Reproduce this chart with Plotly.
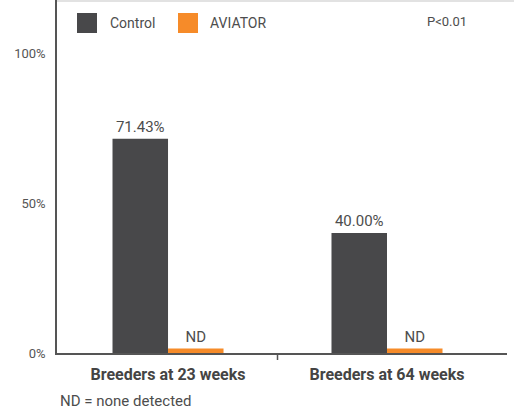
import plotly.graph_objects as go

categories = ["Breeders at 23 weeks", "Breeders at 64 weeks"]
control_values = [71.43, 40.00]
aviator_values = [1.5, 1.5]  # not detected; drawn as a thin sliver
control_text = ["71.43%", "40.00%"]
aviator_text = ["ND", "ND"]
y_tick_vals = [0, 50, 100]
y_tick_text = ["0%", "50%", "100%"]

W, H = 514, 409
L, R, T, B = 57, 7, 0, 56
PW, PH = W - L - R, H - T - B

def px(x):
    return (x - L) / PW

def py(y):
    return (H - B - y) / PH

DARK = "#48484a"
ORANGE = "#f68b29"
TXT = "#4d4d4d"
FONT = "Roboto"

fig = go.Figure()
fig.add_trace(go.Bar(x=categories, y=control_values, name="Control",
                     marker=dict(color=DARK, line=dict(width=0)),
                     text=control_text, textposition="outside",
                     textfont=dict(size=15, color=TXT, family=FONT),
                     cliponaxis=False, showlegend=False))
fig.add_trace(go.Bar(x=categories, y=aviator_values, name="AVIATOR",
                     marker=dict(color=ORANGE, line=dict(width=0)),
                     text=aviator_text, textposition="outside",
                     textfont=dict(size=15, color=TXT, family=FONT),
                     cliponaxis=False, showlegend=False))

shapes = [
    dict(type="rect", xref="paper", yref="paper", x0=px(77), x1=px(97), y0=py(33), y1=py(13),
         fillcolor=DARK, line=dict(width=0)),
    dict(type="rect", xref="paper", yref="paper", x0=px(178), x1=px(198), y0=py(33), y1=py(13),
         fillcolor=ORANGE, line=dict(width=0)),
    dict(type="line", xref="paper", yref="paper", x0=0, x1=px(514), y0=py(1), y1=py(1),
         line=dict(color="#e2e2e2", width=2)),
    dict(type="line", xref="x", yref="paper", x0=0.5, x1=0.5, y0=0, y1=py(360),
         line=dict(color="#555555", width=1.5)),
]

annotations = [
    dict(text="Control", xref="paper", yref="paper", x=px(108), y=py(23), xanchor="left",
         yanchor="middle", showarrow=False, font=dict(size=14, color=TXT, family=FONT)),
    dict(text="AVIATOR", xref="paper", yref="paper", x=px(208), y=py(23), xanchor="left",
         yanchor="middle", showarrow=False, font=dict(size=14, color=TXT, family=FONT)),
    dict(text="P&lt;0.01", xref="paper", yref="paper", x=px(447), y=py(22), xanchor="center",
         yanchor="middle", showarrow=False, font=dict(size=13, color=TXT, family=FONT)),
    dict(text="ND = none detected", xref="paper", yref="paper", x=px(58), y=py(401),
         xanchor="left", yanchor="middle", showarrow=False,
         font=dict(size=15, color=TXT, family=FONT)),
]

fig.update_layout(
    width=W, height=H,
    margin=dict(l=L, r=R, t=T, b=B, pad=0),
    paper_bgcolor="white", plot_bgcolor="white",
    barmode="group", bargap=0.493, bargroupgap=0,
    showlegend=False,
    shapes=shapes, annotations=annotations,
    font=dict(family=FONT, color=TXT),
    xaxis=dict(range=[-0.507, 1.548], showgrid=False, zeroline=False,
               showline=True, linecolor="#555555", linewidth=1.5,
               ticks="", ticklabelstandoff=6,
               tickfont=dict(size=16, color="#444444", family=FONT, weight="bold"),
               fixedrange=True),
    yaxis=dict(range=[0, PH / 3.0], showgrid=False, zeroline=False,
               showline=True, linecolor="#555555", linewidth=1.5,
               tickvals=y_tick_vals, ticktext=y_tick_text, ticks="",
               ticklabelstandoff=7,
               tickfont=dict(size=13, color="#555555", family=FONT),
               fixedrange=True),
)

fig.write_html("out.html", config={"displayModeBar": False},
               post_script="document.body.style.margin='0';")
